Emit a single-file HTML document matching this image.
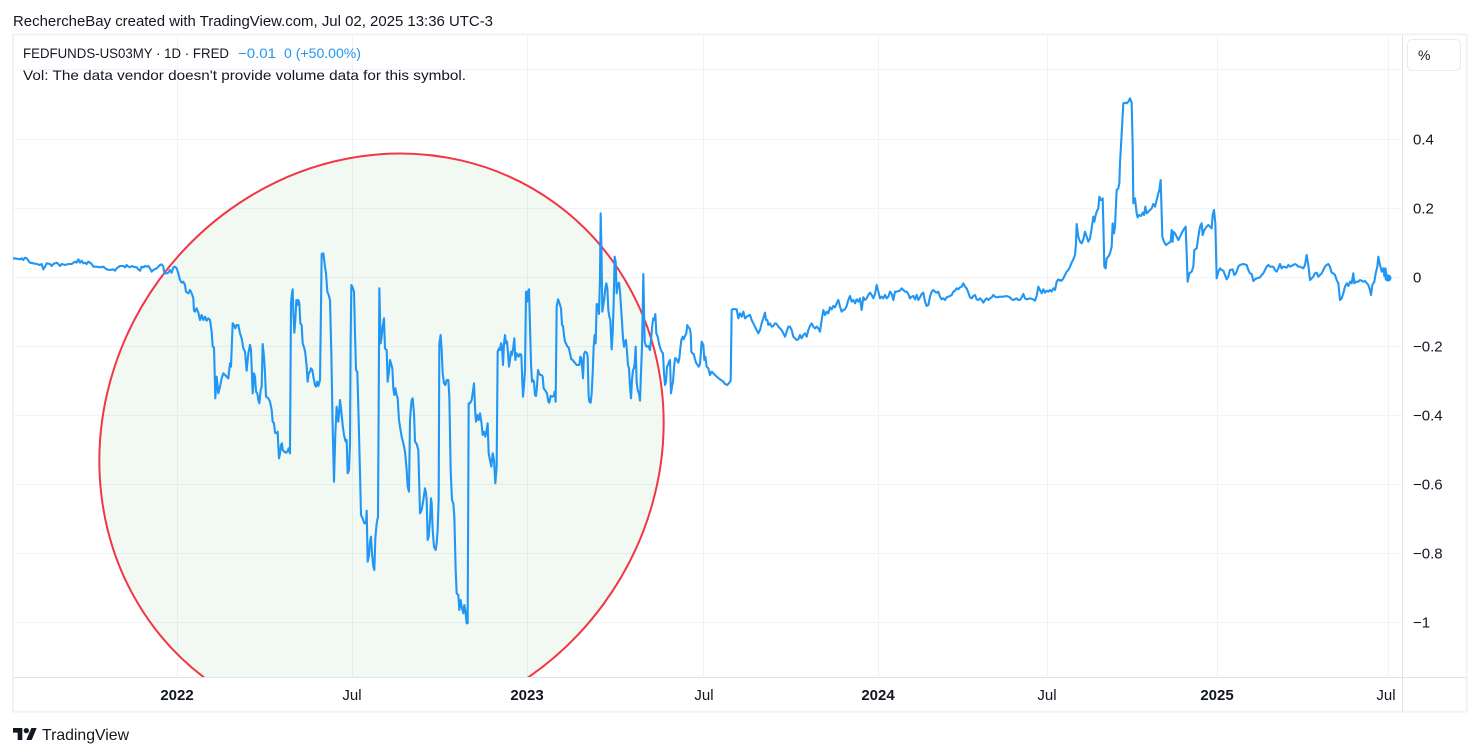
<!DOCTYPE html>
<html>
<head>
<meta charset="utf-8">
<style>
  html,body{margin:0;padding:0;background:#ffffff;width:1480px;height:756px;overflow:hidden;}
  svg{display:block;position:absolute;left:0;top:0;}
  text{font-family:"Liberation Sans",sans-serif;fill:#131722;}
</style>
</head>
<body>
<svg width="1480" height="756" viewBox="0 0 1480 756" xmlns="http://www.w3.org/2000/svg">
  <defs>
    <clipPath id="pane"><rect x="13" y="35" width="1389.5" height="642"/></clipPath>
  </defs>
  <rect x="0" y="0" width="1480" height="756" fill="#ffffff"/>

  <!-- header -->
  <text x="13" y="26" font-size="15" textLength="480" lengthAdjust="spacingAndGlyphs">RechercheBay created with TradingView.com, Jul 02, 2025 13:36 UTC-3</text>

  <!-- frame -->
  <rect x="13" y="34.3" width="1453.7" height="677.4" fill="none" stroke="#f0f2f5" stroke-width="2"/>

  <!-- grid -->
  <g stroke="#f0f3fa" stroke-width="1">
    <line x1="13" y1="69.5" x2="1402" y2="69.5"/>
    <line x1="13" y1="139.5" x2="1402" y2="139.5"/>
    <line x1="13" y1="208.5" x2="1402" y2="208.5"/>
    <line x1="13" y1="277.5" x2="1402" y2="277.5"/>
    <line x1="13" y1="346.5" x2="1402" y2="346.5"/>
    <line x1="13" y1="415.5" x2="1402" y2="415.5"/>
    <line x1="13" y1="484.5" x2="1402" y2="484.5"/>
    <line x1="13" y1="553.5" x2="1402" y2="553.5"/>
    <line x1="13" y1="622.5" x2="1402" y2="622.5"/>
    <line x1="177.5" y1="35" x2="177.5" y2="677"/>
    <line x1="352.5" y1="35" x2="352.5" y2="677"/>
    <line x1="527.5" y1="35" x2="527.5" y2="677"/>
    <line x1="703.5" y1="35" x2="703.5" y2="677"/>
    <line x1="878.5" y1="35" x2="878.5" y2="677"/>
    <line x1="1047.5" y1="35" x2="1047.5" y2="677"/>
    <line x1="1217.5" y1="35" x2="1217.5" y2="677"/>
    <line x1="1388.5" y1="35" x2="1388.5" y2="677"/>
  </g>

  <!-- ellipse drawing -->
  <g clip-path="url(#pane)">
    <path d="M555.3 203.35 A295 275 -53.9 1 0 207.7 680.15 A295 275 -53.9 1 0 555.3 203.35 Z" fill="rgba(76,175,80,0.07)" stroke="#f23645" stroke-width="2"/>
  </g>

  <!-- series -->
  <g clip-path="url(#pane)" fill="none" stroke="#2196f3" stroke-width="6.3" stroke-linejoin="round" stroke-linecap="round">
    <polyline transform="translate(10,240) scale(0.33333)" points="9,55 20,56 30,58 35,55 40,60 45,53 50,55 55,62 60,68 70,70 80,72 90,75 95,72 100,88 105,80 110,70 120,72 125,78 130,72 140,68 145,72 150,78 155,72 165,75 175,72 185,72 195,65 200,68 205,58 210,68 215,62 220,70 225,68 230,72 235,65 240,68 245,72 250,80 260,80 270,82 280,80 290,88 300,90 310,88 315,92 320,85 330,78 340,78 345,82 350,75 355,80 360,82 365,78 370,80 380,82 385,88 390,92 395,80 400,82 405,78 410,80 415,78 420,85 425,95 430,90 440,85 450,75 455,73 460,80 463,100 470,100 475,98 480,90 485,98 490,82 495,80 500,85 505,100 510,120 515,128 520,125 525,135 528,155 535,160 540,150 545,160 550,175 552,212 555,215 560,205 565,218 570,240 575,225 580,240 585,230 590,242 595,235 600,240 605,275 608,320 612,322 616,475 620,410 625,460 630,440 635,415 640,400 645,405 650,410 655,415 660,370 663,380 668,250 672,255 676,265 680,255 685,255 690,280 695,295 700,325 705,335 710,392 715,340 720,315"/>
    <polyline transform="translate(250,240) scale(0.33333)" points="0,315 3,330 8,460 12,400 15,410 18,455 22,460 25,480 28,490 32,450 35,440 38,312 42,350 45,400 48,470 55,475 60,485 65,510 68,545 72,550 75,578 80,580 83,575 85,620 87,655 90,640 93,615 96,610 98,630 103,635 108,638 112,635 116,625 120,640 123,190 126,160 128,148 130,220 133,278 136,240 139,180 142,195 145,180 148,190 151,250 155,255 158,310 163,325 166,340 170,380 173,425 176,400 180,395 183,385 187,390 190,410 195,435 198,440 202,425 205,438 210,420 213,200 215,42 220,40 225,80 228,100 232,155 236,165 240,180 244,340 248,560 252,725 256,580 260,500 265,545 268,510 270,480 273,505 278,555 282,585 287,605 290,600 293,700 297,690 300,610 302,300 304,135 307,140 312,155 315,280 318,390 322,395 326,540 330,700 333,825 338,835 343,850 348,850 350,812 353,965 357,945 360,905 363,890 366,940 370,980 373,990 376,895 380,850 384,830 386,500 388,145 392,310 395,290 398,260 402,235 405,325 410,330 413,425 417,395 420,360 423,370 427,385 430,445 433,465 436,445 440,465 443,475 447,540 450,560 455,590 460,610 465,635 470,690 473,740 477,755 480,540 483,500 485,480 488,475 492,520 495,605 500,612 505,630 510,820 515,810 520,780 525,745 528,760 530,780 533,900 536,890 540,840 543,775 545,790 548,870 552,920 557,930 560,910 563,870 566,780 568,310 572,285 575,330 578,400 582,430 586,435 590,420 595,420 598,470 602,690 606,780 610,790 613,830 617,990 620,1060 625,1065 628,1110 632,1080 635,1100 640,1120 643,1095 646,1110 650,1150 653,1150 656,490 660,490 665,480 668,460 672,430 676,520 678,545 682,525 686,540 690,520 694,545 698,585 702,575 706,590 710,570 713,550 716,640 720,660"/>
    <polyline transform="translate(480,200) scale(0.33333)" points="30,780 34,800 38,760 42,780 46,850 50,800 53,455 57,445 60,450 63,430 66,440 69,495 72,430 75,405 78,430 81,425 84,460 87,500 90,480 93,455 96,465 100,440 103,415 106,480 110,460 113,465 116,470 120,462 124,465 127,545 129,590 132,555 135,510 138,275 141,305 144,275 147,268 150,380 153,490 156,545 159,540 162,545 165,585 168,588 171,560 174,510 177,520 181,525 185,525 188,530 191,565 195,570 198,575 201,580 205,605 208,608 212,588 217,590 221,588 224,575 227,605 230,320 234,298 237,305 240,315 243,325 246,375 249,378 252,405 255,425 258,430 262,440 266,442 270,460 274,478 278,480 282,485 286,490 290,495 294,495 298,495 301,470 304,475 306,495 309,535 312,462 316,455 320,458 323,470 326,590 328,605 332,608 335,580 338,520 341,440 344,405 347,430 350,312 354,315 357,342 360,230 362,40 364,130 367,335 370,315 373,295 376,265 379,250 382,265 385,330 388,350 391,360 395,448 398,400 401,310 404,170 407,185 410,280 413,255 417,248 420,275 423,320 426,365 429,415 432,440 435,425 438,420 441,455 444,495 447,505 450,560 453,595 456,540 459,510 462,505 464,490 467,440 470,548 473,570 477,580 480,602 483,520 486,440 488,340 490,222 492,330 494,425 497,435 500,440 505,438 510,450 513,420 517,375 520,355 523,360 526,342 529,400 533,410 537,430 541,445 545,455 549,460 552,520 555,555 558,545 561,500 564,495 567,485 570,480 573,580 576,560 579,545 582,505 585,475 588,475 591,480 595,488 598,475 601,445 604,420 608,410 611,418 615,408 619,400 622,375 625,382 629,385 632,400 634,455 637,460 641,462 645,478 649,490 653,495 656,500 660,492"/>
    <polyline transform="translate(640,220) scale(0.33333)" points="180,432 185,365 190,375 193,420 196,410 200,440 205,445 210,465 215,455 220,460 230,470 240,478 250,485 255,492 262,495 268,488 272,482 275,270 280,267 290,268 295,295 300,280 305,290 310,275 315,295 320,290 330,285 335,300 340,310 345,320 350,330 355,340 360,330 365,310 370,295 375,278 378,300 382,300 385,315 390,310 395,320 400,318 405,310 410,312 415,320 420,325 425,330 430,340 435,350 440,335 445,320 450,320 455,330 460,350 465,355 470,360 475,358 480,345 485,355 490,345 495,340 500,350 505,330 510,318 515,310 520,320 525,325 530,320 535,325 540,335 545,300 550,270 555,285 560,275 565,280 570,262 575,268 580,258 585,262 590,250 595,240 600,260 605,275 610,270 615,268 620,258 625,240 630,228 635,245 640,240 645,250 650,238 655,245 660,235 665,270 670,232 675,240 680,235 685,225 690,218 695,225 700,235 705,222 710,195 715,215 720,235 725,230 730,235 735,225 740,235 745,230 750,215 755,222 760,240 765,215 770,215 780,212 785,205 790,210 795,215 800,215 805,222 810,235 815,230 820,228 825,238 830,225 835,240 840,232 845,222 850,218 855,245 860,258 865,255 870,230 875,215 880,210 885,215 890,218 895,215 900,230 905,238 910,235 915,240 920,232 925,230 930,228 935,225 940,215 945,212 950,205 955,208 960,202 965,200 970,190 975,200 980,205 985,218 990,232 995,235 1000,228 1005,225 1010,238 1015,240 1020,235 1025,240 1030,248 1035,240 1040,235 1045,240 1050,235 1055,232 1060,225 1065,230 1070,232 1080,230 1090,230 1100,228 1110,232 1115,238 1120,240 1130,235 1135,240 1140,240 1145,232 1150,222 1155,235 1160,238 1170,235 1180,238 1185,242 1190,228 1195,200 1200,210 1205,220 1210,208 1215,218 1220,212 1225,215 1230,210 1235,215 1240,205 1245,210 1250,185 1255,178 1260,182"/>
    <polyline transform="translate(1040,80) scale(0.33333)" points="60,600 65,602 70,595 75,585 80,575 85,570 90,560 95,548 100,538 105,525 108,490 110,432 115,470 120,485 125,490 130,478 135,455 140,470 145,485 150,475 155,445 160,410 163,425 167,405 170,395 175,385 178,350 182,360 185,360 188,355 190,430 193,560 197,565 200,535 205,530 210,520 215,500 218,430 222,460 225,440 230,330 235,325 238,310 240,250 245,160 250,70 255,68 260,70 265,65 270,55 275,68 278,200 280,370 285,355 290,400 293,412 298,405 303,408 308,398 312,405 316,380 320,400 325,395 330,390 335,385 340,372 345,380 350,360 355,340 358,330 362,300 365,400 367,470 372,485 378,495 385,490 392,485 395,450 398,485 400,455 405,460 410,470 415,480 420,470 425,460 430,450 437,440 440,520 443,605 448,580 455,575 460,560 463,510 470,505 475,470 480,440 485,430 488,465 493,450 500,440 505,435 510,440 515,445 518,405 522,390 526,430 530,595 535,575 540,565 545,570 550,572 555,585 560,598 565,590 570,570 578,568 583,585 588,580 595,560 600,555 610,552 620,555 625,570 630,580 635,582 640,603 645,598 650,595 660,592 665,585 670,580 675,570 680,560 685,555 690,560 700,560 705,570 710,575 715,565 720,552 725,565 730,560 740,563 745,555 750,560 760,555 765,552 770,555 775,560 780,560 790,565 795,555 800,525 805,555 810,600 815,595 820,590 825,580 830,578 835,590 840,585 845,580 850,570 855,560 860,555 865,552 870,560 875,578 880,580 885,585 890,600 895,610 900,660 905,655 910,640 915,620 920,610 925,618 930,605 935,610 940,580 943,610 948,605 955,605 960,600 970,605 975,603 985,615 990,630 993,645 997,615 1003,605 1007,580 1012,560 1015,530 1020,555 1025,575 1030,565 1033,588 1036,565 1040,590 1045,595 1050,593"/>
  </g>
  <circle cx="1388" cy="278" r="3.5" fill="#2196f3"/>

  <!-- axes separators -->
  <line x1="1402.5" y1="35" x2="1402.5" y2="711" stroke="#e0e3eb" stroke-width="1"/>
  <line x1="14" y1="677.5" x2="1466" y2="677.5" stroke="#e0e3eb" stroke-width="1"/>

  <!-- legend -->
  <text x="23" y="58" font-size="14" textLength="206" lengthAdjust="spacingAndGlyphs">FEDFUNDS-US03MY · 1D · FRED</text>
  <text x="238" y="58" font-size="14" style="fill:#2196f3" textLength="38" lengthAdjust="spacingAndGlyphs">−0.01</text>
  <text x="284" y="58" font-size="14" style="fill:#2196f3" textLength="77" lengthAdjust="spacingAndGlyphs">0 (+50.00%)</text>
  <text x="23" y="80" font-size="14" textLength="443" lengthAdjust="spacingAndGlyphs">Vol: The data vendor doesn't provide volume data for this symbol.</text>

  <!-- % button -->
  <rect x="1407.5" y="39.5" width="53" height="31" rx="5" fill="#ffffff" stroke="#e9ebf0" stroke-width="1"/>
  <text x="1418" y="60" font-size="14">%</text>

  <!-- price labels -->
  <g font-size="15">
    <text x="1413" y="144.5">0.4</text>
    <text x="1413" y="213.5">0.2</text>
    <text x="1413" y="282.5">0</text>
    <text x="1413" y="351.5">−0.2</text>
    <text x="1413" y="420.5">−0.4</text>
    <text x="1413" y="489.5">−0.6</text>
    <text x="1413" y="558.5">−0.8</text>
    <text x="1413" y="627.5">−1</text>
  </g>

  <!-- time labels -->
  <g font-size="15" text-anchor="middle">
    <text x="177" y="700" font-weight="bold">2022</text>
    <text x="352" y="700">Jul</text>
    <text x="527" y="700" font-weight="bold">2023</text>
    <text x="704" y="700">Jul</text>
    <text x="878" y="700" font-weight="bold">2024</text>
    <text x="1047" y="700">Jul</text>
    <text x="1217" y="700" font-weight="bold">2025</text>
    <text x="1386" y="700">Jul</text>
  </g>

  <!-- TradingView logo -->
  <g transform="translate(13,725.3) scale(0.667)" fill="#131722">
    <path d="M14 22H7V11H0V4h14v18z"/>
    <circle cx="20" cy="8" r="4"/>
    <path d="M28 22h-8l7.5-18h8L28 22z"/>
  </g>
  <text x="42" y="740" font-size="16" textLength="87" lengthAdjust="spacingAndGlyphs">TradingView</text>
</svg>
</body>
</html>
